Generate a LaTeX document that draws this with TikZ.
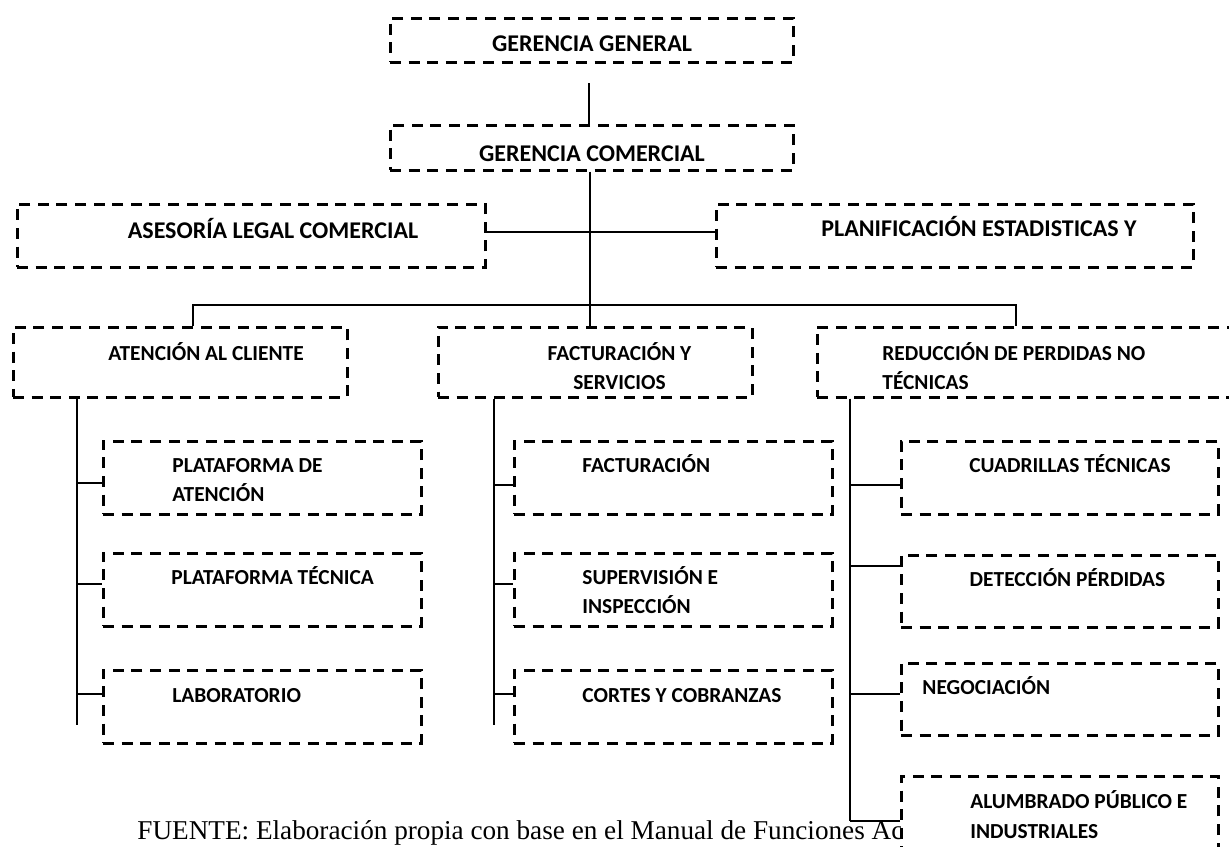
\documentclass[tikz,border=0pt]{standalone}
\usepackage{fontspec}
\newfontfamily\calib{Carlito}
\newfontfamily\tnr{Liberation Serif}
\usetikzlibrary{fit}
\begin{document}
\begin{tikzpicture}[x=0.5pt,y=-0.5pt,
  box/.style={draw, rectangle, dash pattern=on 5.5pt off 3.8pt, line width=1.5pt, inner sep=0pt, fill=white},
  lbl/.style={font=\calib\bfseries\fontsize{12}{14}\selectfont, inner sep=0pt, anchor=base},
  lbls/.style={font=\calib\bfseries\fontsize{10.7}{13}\selectfont, inner sep=0pt, anchor=base},
  lblw/.style={lbls, anchor=base west},
  conn/.style={line width=0.95pt}]
\useasboundingbox (0,0) rectangle (1229,846);
\clip (0,0) rectangle (1229,846);

% source note (partly covered by the last box)
\node[font=\tnr\fontsize{13.6}{16}\selectfont, inner sep=0pt, anchor=base west] (fuente) at (137,839) {FUENTE: Elaboración propia con base en el Manual de Funciones Ac};

% boxes
\node[box, fit={(390,18)(793,62)}] (gg) {};
\node[box, fit={(390,125)(793,170)}] (gc) {};
\node[box, fit={(17,204)(485,267)}] (ase) {};
\node[box, fit={(716,204)(1193,267)}] (plan) {};
\node[box, fit={(13,327)(347,397)}] (at) {};
\node[box, fit={(438,327)(752,397)}] (fys) {};
\node[box, fit={(817,327)(1262,397)}] (red) {};
\node[box, fit={(103,441)(421,514)}] (pa) {};
\node[box, fit={(103,553)(421,626)}] (pt) {};
\node[box, fit={(103,670)(421,743)}] (lab) {};
\node[box, fit={(514,441)(832,514)}] (fac) {};
\node[box, fit={(514,553)(832,626)}] (sup) {};
\node[box, fit={(514,670)(832,743)}] (cor) {};
\node[box, fit={(901,441)(1218,514)}] (cua) {};
\node[box, fit={(901,555)(1218,627)}] (det) {};
\node[box, fit={(901,663)(1218,735)}] (neg) {};
\node[box, fit={(901,776)(1218,890)}] (alu) {};

% labels
\node[lbl] (ggt) at (592,51) {GERENCIA GENERAL};
\node[lbl] (gct) at (592,161) {GERENCIA COMERCIAL};
\node[lbl] (aset) at (273,238) {ASESORÍA LEGAL COMERCIAL};
\node[lbl] (plant) at (979,236) {PLANIFICACIÓN ESTADISTICAS Y};
\node[lbls] (att) at (206,360) {ATENCIÓN AL CLIENTE};
\node[lbls] (fyst1) at (619.5,360) {FACTURACIÓN Y};
\node[lbls] (fyst2) at (619.5,389) {SERVICIOS};
\node[lblw] (redt1) at (882,360) {REDUCCIÓN DE PERDIDAS NO};
\node[lblw] (redt2) at (882,389) {TÉCNICAS};
\node[lblw] (pat1) at (172,472) {PLATAFORMA DE};
\node[lblw] (pat2) at (172,501) {ATENCIÓN};
\node[lblw] (ptt) at (171,584) {PLATAFORMA TÉCNICA};
\node[lblw] (labt) at (172,702) {LABORATORIO};
\node[lblw] (fact) at (582,472) {FACTURACIÓN};
\node[lblw] (supt1) at (582,584) {SUPERVISIÓN E};
\node[lblw] (supt2) at (582,613) {INSPECCIÓN};
\node[lblw] (cort) at (582,702) {CORTES Y COBRANZAS};
\node[lbls] (cuat) at (1070,472) {CUADRILLAS TÉCNICAS};
\node[lbls] (dett) at (1067.5,586) {DETECCIÓN PÉRDIDAS};
\node[lblw] (negt) at (922,694) {NEGOCIACIÓN};
\node[lblw] (alut1) at (970,808.5) {ALUMBRADO PÚBLICO E};
\node[lblw] (alut2) at (970,838.5) {INDUSTRIALES};

% connectors
\coordinate (gtop) at (589,83);
\draw[conn] (gtop) -- (gtop |- gc.north);
\coordinate (bar) at (590,305);
\draw[conn] (gc.south -| bar) -- (fys.north -| bar);
\coordinate (hy) at (0,232);
\draw[conn] (ase.east |- hy) -- (plan.west |- hy);
\coordinate (bl) at (193,305);
\coordinate (br) at (1016,305);
\draw[conn] (at.north -| bl) -- (bl) -- (br) -- (red.north -| br);

\coordinate (s1) at (77,725);
\draw[conn] (at.south -| s1) -- (s1);
\coordinate (j1) at (77,483);
\coordinate (j2) at (77,584);
\coordinate (j3) at (77,694);
\draw[conn] (j1) -- (pa.west |- j1);
\draw[conn] (j2) -- (pt.west |- j2);
\draw[conn] (j3) -- (lab.west |- j3);

\coordinate (s2) at (494,725);
\draw[conn] (fys.south -| s2) -- (s2);
\coordinate (j4) at (494,485);
\coordinate (j5) at (494,584);
\coordinate (j6) at (494,694);
\draw[conn] (j4) -- (fac.west |- j4);
\draw[conn] (j5) -- (sup.west |- j5);
\draw[conn] (j6) -- (cor.west |- j6);

\coordinate (s3) at (850,821);
\draw[conn] (red.south -| s3) -- (s3);
\coordinate (j7) at (850,485);
\coordinate (j8) at (850,566);
\coordinate (j9) at (850,694);
\draw[conn] (j7) -- (cua.west |- j7);
\draw[conn] (j8) -- (det.west |- j8);
\draw[conn] (j9) -- (neg.west |- j9);
\draw[conn] (s3) -- (alu.west |- s3);
\end{tikzpicture}
\end{document}
